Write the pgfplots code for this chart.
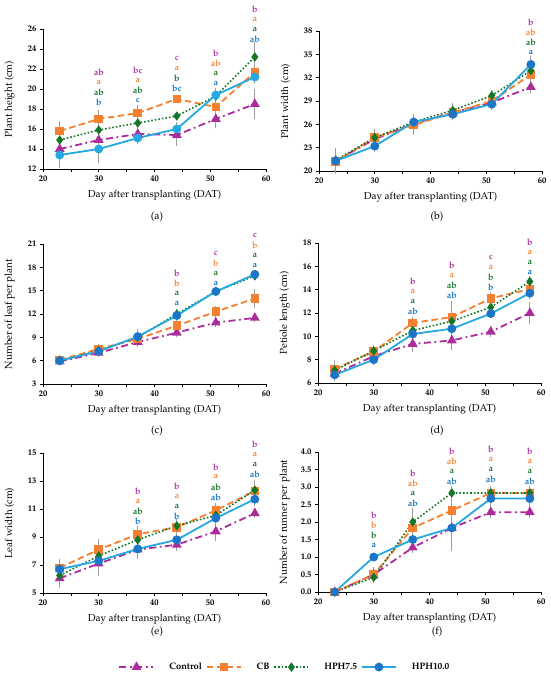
\documentclass[border=0pt]{standalone}
\usepackage[T1]{fontenc}
\usepackage{mathpazo}
\usepackage{pgfplots}
\pgfplotsset{compat=1.18}

\definecolor{ctrlc}{RGB}{172,44,156}
\definecolor{cbc}{RGB}{245,128,48}
\definecolor{gc}{RGB}{20,118,40}
\definecolor{bl}{RGB}{38,168,226}
\definecolor{blm}{RGB}{28,118,200}
\definecolor{lm}{RGB}{176,60,168}
\definecolor{lo}{RGB}{246,140,64}
\definecolor{lg}{RGB}{30,125,55}
\definecolor{lb}{RGB}{30,125,200}

\tikzset{lt/.style={font=\fontsize{9}{10}\selectfont\bfseries, inner sep=0pt}}
\newcommand{\grp}[6]{%
\node[lt,text=lb] at (axis cs:#1,#2) {#6};%
\node[lt,text=lg] at ([yshift=10pt]axis cs:#1,#2) {#5};%
\node[lt,text=lo] at ([yshift=20pt]axis cs:#1,#2) {#4};%
\node[lt,text=lm] at ([yshift=30pt]axis cs:#1,#2) {#3};}

\pgfplotsset{
 panel/.style={width=223pt,height=140pt,scale only axis,
  xmin=20,xmax=60,xtick={20,30,40,50,60},minor x tick num=1,
  axis x line*=bottom,axis y line*=left,axis line style={-,line width=0.8pt},
  tick align=outside,major tick length=3pt,minor tick length=3pt,
  every tick/.style={black,line width=0.7pt},
  /pgf/number format/assume math mode=true,
  tick label style={font=\fontsize{8.5}{10}\selectfont\bfseries},
  label style={font=\fontsize{9.3}{11}\selectfont\bfseries},
  xlabel={Day after transplanting (DAT)},
  every axis x label/.style={at={(axis description cs:0.5,-0.19)},anchor=center},
  every axis y label/.style={at={(axis description cs:-0.15,0.5)},anchor=center,rotate=90},
  clip=false,
  legend image code/.code={\draw[mark repeat=2,mark phase=2] plot coordinates {(0pt,0pt)(17pt,0pt)(34pt,0pt)};}},
 ebar/.style={error bars/y dir=both, error bars/y explicit,
  error bars/error bar style={solid,line width=0.8pt,black!38},
  error bars/error mark options={solid,mark size=2.2pt,line width=0.8pt,black!38}},
 ctrl/.style={ctrlc,line width=1.8pt,dash pattern=on 7pt off 3.5pt on 1.8pt off 3.5pt,mark=triangle*,mark size=3.9pt,mark options={solid,fill=ctrlc},ebar},
 cb/.style={cbc,line width=1.8pt,dash pattern=on 6.5pt off 3.5pt,mark=square*,mark size=3.4pt,mark options={solid,fill=cbc},ebar},
 hg/.style={gc,line width=1.6pt,dash pattern=on 1.6pt off 2pt,mark=diamond*,mark size=3.4pt,mark options={solid,fill=gc},ebar},
 hb/.style={bl,line width=1.8pt,solid,mark=*,mark size=3.5pt,mark options={solid,fill=blm,draw=blm},ebar},
}

\begin{document}
\begin{tikzpicture}
\useasboundingbox (0,0) rectangle (550pt,-678pt);

% (a)
\begin{axis}[panel,at={(43pt,-169pt)},anchor=south west,ymin=12,ymax=26,ytick={12,14,...,26},ylabel={Plant height (cm)}]
\addplot[ctrl] coordinates {(23,14.0)+-(0,0.3) (30,14.9)+-(0,0.5) (37,15.5)+-(0,0.4) (44,15.4)+-(0,0.9) (51,17.0)+-(0,0.7) (58,18.5)+-(0,1.25)};
\addplot[cb] coordinates {(23,15.8)+-(0,0.75) (30,17.0)+-(0,0.7) (37,17.6)+-(0,0.6) (44,19.0)+-(0,0.2) (51,18.2)+-(0,0.4) (58,21.7)+-(0,0.6)};
\addplot[hg] coordinates {(23,14.9)+-(0,0.3) (30,15.9)+-(0,0.3) (37,16.6)+-(0,0.3) (44,17.3)+-(0,0.2) (51,19.3)+-(0,0.3) (58,23.2)+-(0,1.25)};
\addplot[hb,mark options={solid,fill=bl,draw=bl}] coordinates {(23,13.4)+-(0,1.1) (30,14.0)+-(0,1.2) (37,15.1)+-(0,0.4) (44,16.0)+-(0,0.5) (51,19.4)+-(0,0.5) (58,21.2)+-(0,0.5)};
\grp{30}{18.63}{ab}{a}{ab}{b}
\grp{37}{18.9}{bc}{a}{ab}{c}
\grp{44}{20.07}{c}{a}{b}{bc}
\grp{51}{20.57}{b}{ab}{a}{a}
\grp{58}{24.97}{b}{a}{a}{ab}
\end{axis}

% (b)
\begin{axis}[panel,at={(319pt,-171pt)},anchor=south west,ymin=20,ymax=38,ytick={20,23,...,38},ylabel={Plant width (cm)}]
\addplot[ctrl] coordinates {(23,21.3)+-(0,0.3) (30,24.1)+-(0,0.4) (37,26.1)+-(0,0.5) (44,27.5)+-(0,0.4) (51,28.8)+-(0,0.3) (58,30.8)+-(0,0.5)};
\addplot[cb] coordinates {(23,21.2)+-(0,0.5) (30,24.3)+-(0,0.8) (37,25.9)+-(0,1.0) (44,27.5)+-(0,0.4) (51,29.0)+-(0,0.5) (58,32.4)+-(0,0.8)};
\addplot[hg] coordinates {(23,21.4)+-(0,0.3) (30,24.3)+-(0,0.5) (37,26.3)+-(0,0.5) (44,27.8)+-(0,0.7) (51,29.7)+-(0,0.4) (58,32.9)+-(0,0.5)};
\addplot[hb] coordinates {(23,21.3)+-(0,1.4) (30,23.2)+-(0,0.5) (37,26.3)+-(0,0.7) (44,27.3)+-(0,0.5) (51,28.6)+-(0,0.5) (58,33.7)+-(0,0.8)};
\grp{58}{35.26}{b}{ab}{ab}{a}
\end{axis}

% (c)
\begin{axis}[panel,at={(43pt,-384pt)},anchor=south west,ymin=3,ymax=21,ytick={3,6,...,21},ylabel={Number of leaf per plant}]
\addplot[ctrl] coordinates {(23,5.9)+-(0,0.2) (30,7.0)+-(0,0.3) (37,8.4)+-(0,0.3) (44,9.6)+-(0,0.3) (51,10.9)+-(0,0.3) (58,11.5)+-(0,0.3)};
\addplot[cb] coordinates {(23,6.1)+-(0,0.3) (30,7.5)+-(0,0.3) (37,8.8)+-(0,0.4) (44,10.5)+-(0,0.5) (51,12.3)+-(0,0.5) (58,14.0)+-(0,0.9)};
\addplot[hg] coordinates {(23,6.0)+-(0,0.2) (30,7.3)+-(0,0.3) (37,9.0)+-(0,0.4) (44,12.0)+-(0,0.3) (51,14.9)+-(0,0.3) (58,16.9)+-(0,0.3)};
\addplot[hb] coordinates {(23,6.0)+-(0,0.2) (30,7.2)+-(0,0.3) (37,9.1)+-(0,0.7) (44,11.8)+-(0,0.3) (51,14.9)+-(0,0.3) (58,17.1)+-(0,0.3)};
\grp{44}{13.4}{b}{b}{a}{a}
\grp{51}{15.97}{c}{b}{a}{a}
\grp{58}{18.23}{c}{b}{a}{a}
\end{axis}

% (d)
\begin{axis}[panel,at={(318pt,-383pt)},anchor=south west,ymin=6,ymax=18,ytick={6,8,...,18},ylabel={Petiole length (cm)}]
\addplot[ctrl] coordinates {(23,6.8)+-(0,0.3) (30,8.3)+-(0,0.3) (37,9.35)+-(0,0.5) (44,9.65)+-(0,0.6) (51,10.4)+-(0,0.3) (58,12.0)+-(0,0.75)};
\addplot[cb] coordinates {(23,7.2)+-(0,0.6) (30,8.7)+-(0,0.4) (37,11.15)+-(0,0.3) (44,11.65)+-(0,1.2) (51,13.25)+-(0,0.4) (58,14.05)+-(0,0.4)};
\addplot[hg] coordinates {(23,7.1)+-(0,0.7) (30,8.75)+-(0,0.3) (37,10.5)+-(0,0.3) (44,11.3)+-(0,0.4) (51,12.5)+-(0,0.3) (58,14.7)+-(0,0.3)};
\addplot[hb] coordinates {(23,6.7)+-(0,0.2) (30,8.0)+-(0,0.3) (37,10.2)+-(0,0.3) (44,10.65)+-(0,0.4) (51,11.95)+-(0,0.2) (58,13.7)+-(0,0.3)};
\grp{37}{12.11}{b}{a}{a}{ab}
\grp{44}{13.54}{b}{a}{ab}{ab}
\grp{51}{14.2}{c}{a}{b}{b}
\grp{58}{15.49}{b}{a}{a}{a}
\end{axis}

% (e)
\begin{axis}[panel,at={(43pt,-593pt)},anchor=south west,ymin=5,ymax=15,ytick={5,7,...,15},ylabel={Leaf width (cm)},
 legend columns=4,
 legend style={at={(axis description cs:1.085,-0.529)},anchor=center,draw=none,fill=none,
  font=\fontsize{9.3}{11}\selectfont\bfseries,
  /tikz/every odd column/.append style={column sep=13pt},
  /tikz/every even column/.append style={column sep=2pt}}]
\addplot[ctrl] coordinates {(23,6.05)+-(0,0.5) (30,7.1)+-(0,0.7) (37,8.1)+-(0,0.5) (44,8.45)+-(0,0.3) (51,9.4)+-(0,0.5) (58,10.7)+-(0,0.2)};
\addlegendentry{Control}
\addplot[cb] coordinates {(23,6.8)+-(0,0.5) (30,8.1)+-(0,0.6) (37,9.2)+-(0,0.45) (44,9.7)+-(0,0.3) (51,10.9)+-(0,0.4) (58,12.3)+-(0,0.5)};
\addlegendentry{CB}
\addplot[hg] coordinates {(23,6.25)+-(0,0.3) (30,7.65)+-(0,0.3) (37,8.8)+-(0,0.3) (44,9.8)+-(0,0.3) (51,10.55)+-(0,0.3) (58,12.35)+-(0,0.6)};
\addlegendentry{HPH7.5}
\addplot[hb] coordinates {(23,6.7)+-(0,0.3) (30,7.3)+-(0,0.4) (37,8.15)+-(0,0.5) (44,8.8)+-(0,0.3) (51,10.35)+-(0,0.4) (58,11.7)+-(0,0.3)};
\addlegendentry{HPH10.0}
\grp{37}{10.13}{b}{a}{ab}{b}
\grp{44}{10.46}{b}{a}{a}{b}
\grp{51}{11.87}{b}{a}{ab}{ab}
\grp{58}{13.47}{b}{a}{a}{ab}
\end{axis}

% (f)
\begin{axis}[panel,at={(318pt,-592pt)},anchor=south west,ymin=0,ymax=4,ytick={0,0.5,...,4},ylabel={Number of runner per plant},
 yticklabel style={/pgf/number format/.cd,fixed,fixed zerofill,precision=1}]
\addplot[ctrl] coordinates {(23,0)+-(0,0) (30,0.5)+-(0,0.15) (37,1.27)+-(0,0.1) (44,1.83)+-(0,0.15) (51,2.28)+-(0,0.1) (58,2.28)+-(0,0.1)};
\addplot[cb] coordinates {(23,0)+-(0,0) (30,0.5)+-(0,0.15) (37,1.83)+-(0,0.5) (44,2.33)+-(0,0.35) (51,2.83)+-(0,0.15) (58,2.83)+-(0,0.15)};
\addplot[hg] coordinates {(23,0)+-(0,0) (30,0.42)+-(0,0.1) (37,2.0)+-(0,0.3) (44,2.83)+-(0,0.15) (51,2.83)+-(0,0.15) (58,2.83)+-(0,0.15)};
\addplot[hb] coordinates {(23,0)+-(0,0) (30,1.0)+-(0,0.05) (37,1.5)+-(0,0.15) (44,1.83)+-(0,0.6) (51,2.67)+-(0,0.3) (58,2.67)+-(0,0.3)};
\grp{30}{1.33}{b}{b}{b}{a}
\grp{37}{2.53}{b}{ab}{a}{ab}
\grp{44}{3.15}{b}{ab}{a}{ab}
\grp{51}{3.21}{b}{a}{a}{ab}
\grp{58}{3.17}{b}{a}{a}{ab}
\end{axis}

\node[font=\fontsize{10.5}{12}\selectfont] at (157pt,-217pt) {(a)};
\node[font=\fontsize{10.5}{12}\selectfont] at (437pt,-217pt) {(b)};
\node[font=\fontsize{10.5}{12}\selectfont] at (157pt,-431pt) {(c)};
\node[font=\fontsize{10.5}{12}\selectfont] at (437pt,-431pt) {(d)};
\node[font=\fontsize{10.5}{12}\selectfont] at (157pt,-632pt) {(e)};
\node[font=\fontsize{10.5}{12}\selectfont] at (437pt,-632pt) {(f)};
\end{tikzpicture}
\end{document}
